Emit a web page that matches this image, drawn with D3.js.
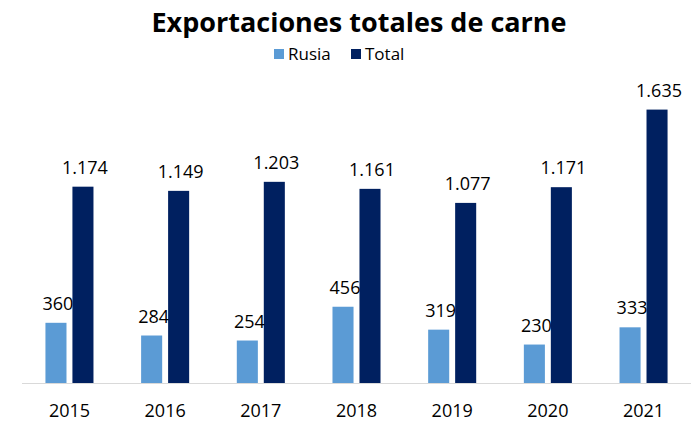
<!DOCTYPE html>
<html>
<head>
<meta charset="utf-8">
<script src="https://cdn.jsdelivr.net/npm/d3@7"></script>
<style>
    body { margin: 0; background: #fff; }
    svg { display: block; font-family: "Open Sans", Lato, sans-serif; }
</style>
</head>
<body>
<div id="chart"></div>
<script>
// Chart data
const years = ['2015', '2016', '2017', '2018', '2019', '2020', '2021'];
const rusia = [360, 284, 254, 456, 319, 230, 333];
const total = [1174, 1149, 1203, 1161, 1077, 1171, 1635];
const seriesNames = ['Rusia', 'Total'];
const seriesColors = ['#5B9BD5', '#002060'];

const width = 700, height = 431;
const margin = { top: 82, right: 9, bottom: 48, left: 22 };

const svg = d3.select('#chart').append('svg')
    .attr('width', width)
    .attr('height', height);

// Title
svg.append('text')
    .attr('x', 359)
    .attr('y', 32)
    .attr('text-anchor', 'middle')
    .attr('font-size', 27)
    .attr('font-weight', 'bold')
    .attr('fill', '#000')
    .text('Exportaciones totales de carne');

// Legend
const legendX = [274, 351];
seriesNames.forEach((name, i) => {
    const g = svg.append('g').attr('transform', `translate(${legendX[i]},49)`);
    g.append('rect')
        .attr('width', 10)
        .attr('height', 10)
        .attr('fill', seriesColors[i]);
    g.append('text')
        .attr('x', 14)
        .attr('y', 11)
        .attr('font-size', 17)
        .attr('fill', '#000')
        .text(name);
});

// Scales
const x0 = d3.scaleBand()
    .domain(years)
    .range([margin.left, width - margin.right])
    .paddingInner(0.498)
    .paddingOuter(0.245);

const x1 = d3.scaleBand()
    .domain(seriesNames)
    .range([0, x0.bandwidth()])
    .paddingInner(0.22)
    .paddingOuter(0);

const y = d3.scaleLinear()
    .domain([0, 1800])
    .range([height - margin.bottom, margin.top]);

// Axis baseline
svg.append('line')
    .attr('x1', margin.left)
    .attr('x2', width - margin.right)
    .attr('y1', y(0) + 0.5)
    .attr('y2', y(0) + 0.5)
    .attr('stroke', '#D9D9D9')
    .attr('stroke-width', 1);

// Year labels via axis
const xAxis = svg.append('g')
    .attr('transform', `translate(0,${y(0)})`)
    .call(d3.axisBottom(x0).tickSize(0).tickPadding(21));
xAxis.select('.domain').remove();
xAxis.selectAll('text')
    .attr('font-size', 18)
    .attr('font-family', '"Open Sans", Lato, sans-serif')
    .attr('fill', '#000');

// Bars and labels
const data = years.map((yr, i) => ({ year: yr, values: [rusia[i], total[i]] }));

const groups = svg.append('g')
    .selectAll('g')
    .data(data)
    .enter().append('g')
    .attr('transform', d => `translate(${x0(d.year)},0)`);

groups.selectAll('rect')
    .data(d => d.values.map((v, i) => ({ name: seriesNames[i], value: v, color: seriesColors[i] })))
    .enter().append('rect')
    .attr('x', d => x1(d.name))
    .attr('y', d => y(d.value))
    .attr('width', x1.bandwidth())
    .attr('height', d => y(0) - y(d.value))
    .attr('fill', d => d.color);

const fmt = v => d3.format(',')(v).replace(/,/g, '.');

groups.selectAll('text')
    .data(d => d.values.map((v, i) => ({ name: seriesNames[i], value: v })))
    .enter().append('text')
    .attr('x', d => x1(d.name) + x1.bandwidth() / 2 + 2)
    .attr('y', d => y(d.value) - 13)
    .attr('text-anchor', 'middle')
    .attr('font-size', 18)
    .attr('fill', '#000')
    .text(d => fmt(d.value));
</script>
</body>
</html>
